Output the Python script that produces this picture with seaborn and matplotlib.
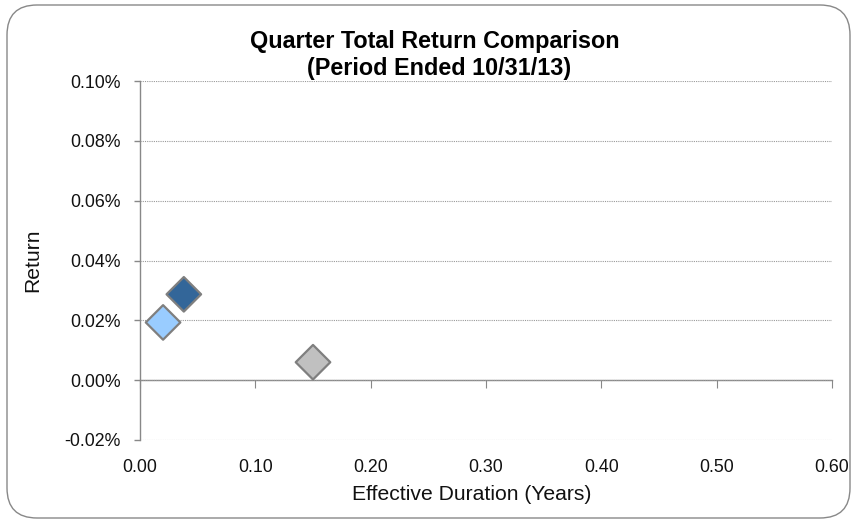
import numpy as np
import pandas as pd
import seaborn as sns
import matplotlib.pyplot as plt
from matplotlib.patches import FancyBboxPatch
from matplotlib.ticker import FuncFormatter

# values
names = ['Fund A', 'Fund B', 'Fund C']
duration = [0.020, 0.038, 0.150]
ret = [0.0193, 0.0287, 0.0060]
colors = ['#99CCFF', '#336699', '#C0C0C0']

xticks = [0.0, 0.1, 0.2, 0.3, 0.4, 0.5, 0.6]
yticks = [-0.02, 0.0, 0.02, 0.04, 0.06, 0.08, 0.10]

df = pd.DataFrame({'name': names, 'dur': duration, 'ret': ret})

sns.set_style('white')
plt.rcParams['font.family'] = ['Liberation Sans', 'DejaVu Sans']

fig = plt.figure(figsize=(8.57, 5.23), dpi=100)
ax = fig.add_axes([140/857, 1-440/523, 692/857, 359/523])

sns.scatterplot(data=df, x='dur', y='ret', hue='name', palette=colors,
                marker='D', s=310, edgecolor='#7F7F7F', linewidth=1.6,
                legend=False, ax=ax, zorder=5, clip_on=False)

ax.set_xlim(0, 0.6)
ax.set_ylim(-0.02, 0.10)
ax.set_xticks(xticks)
ax.set_yticks(yticks)
ax.xaxis.set_major_formatter(FuncFormatter(lambda v, p: f'{v:.2f}'))
ax.yaxis.set_major_formatter(FuncFormatter(lambda v, p: f'{v:.2f}%'))
ax.tick_params(axis='x', length=0, pad=14, labelsize=12.8, colors='#111111')
ax.tick_params(axis='y', length=4, width=1, color='#888888', direction='out',
               pad=10, labelsize=12.8, labelcolor='#111111', left=True)
ax.grid(axis='y', color='#999999', linestyle=(0, (1, 1)), linewidth=0.8)
ax.grid(axis='x', visible=False)
for s in ['top', 'right', 'bottom']:
    ax.spines[s].set_visible(False)
ax.spines['left'].set_color('#888888')
ax.spines['left'].set_linewidth(1)
ax.set_xlabel('')
ax.set_ylabel('')

# horizontal axis crossing at zero with tick marks
sec = ax.secondary_xaxis(1/6)
sec.set_xticks(xticks)
sec.tick_params(axis='x', length=6, direction='out', color='#888888',
                labelbottom=False, labeltop=False, labelsize=0)
sec.spines['bottom'].set_color('#888888')
sec.spines['bottom'].set_linewidth(1)

fig.text(435/857, 1-48/523, 'Quarter Total Return Comparison',
         ha='center', va='baseline', fontsize=16.8, fontweight='bold', color='#000000')
fig.text(439/857, 1-75/523, '(Period Ended 10/31/13)',
         ha='center', va='baseline', fontsize=16.8, fontweight='bold', color='#000000')
fig.text(33/857, 1-260/523, 'Return', rotation=90, ha='center', va='center',
         fontsize=15.2, color='#111111')
fig.text(472/857, 1-495/523, 'Effective Duration (Years)', ha='center', va='center',
         fontsize=15.2, color='#111111')

border = FancyBboxPatch((7/857, 5/523), 843/857, 513/523,
                        boxstyle='round,pad=0,rounding_size=0.035',
                        transform=fig.transFigure, facecolor='none',
                        edgecolor='#888888', linewidth=1, mutation_aspect=857/523)
fig.patches.append(border)

fig.savefig('out.png', dpi=100)
